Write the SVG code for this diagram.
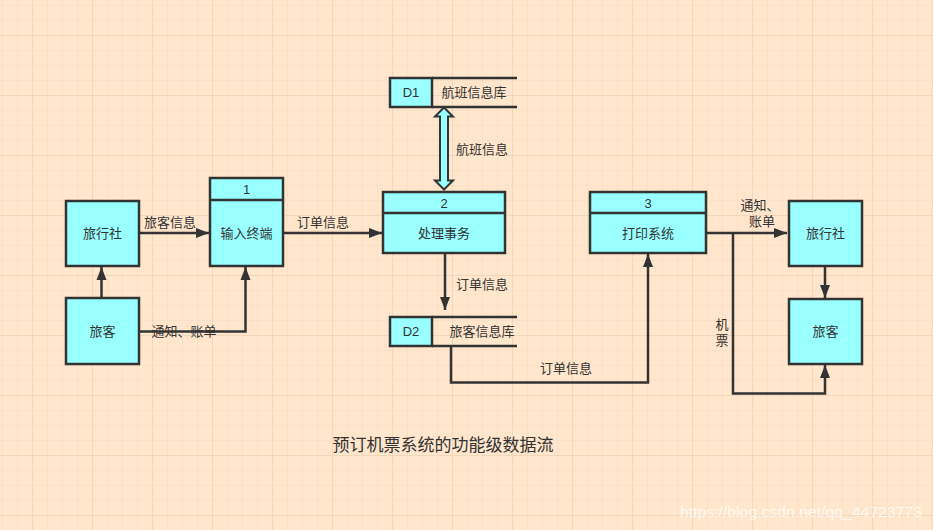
<svg xmlns="http://www.w3.org/2000/svg" width="933" height="530" viewBox="0 0 933 530">
<defs>
<pattern id="gmin" x="2" y="5" width="15" height="15" patternUnits="userSpaceOnUse">
<path d="M0,0 H15 M0,0 V15" fill="none" stroke="#F3D9BF" stroke-width="1"/>
</pattern>
<pattern id="gmaj" x="32" y="35" width="60" height="60" patternUnits="userSpaceOnUse">
<path d="M0,0 H60 M0,0 V60" fill="none" stroke="#E9CFB3" stroke-width="1"/>
</pattern>
<marker id="arr" markerUnits="userSpaceOnUse" markerWidth="14" markerHeight="12" refX="13" refY="6" orient="auto">
<path d="M0,1 L13,6 L0,11 z" fill="#333333"/>
</marker>
<style>
.bx{fill:#99FFFF;stroke:#333333;stroke-width:2.5}
.ln{fill:none;stroke:#333333;stroke-width:2.5}
.fl{fill:none;stroke:#333333;stroke-width:2.5;marker-end:url(#arr)}
.t{font-family:"Liberation Sans","Noto Sans CJK SC",sans-serif;font-size:13px;fill:#333333;text-anchor:middle;dominant-baseline:central}
</style>
</defs>
<rect x="0" y="0" width="933" height="530" fill="#FFE6CC"/>
<rect x="0" y="0" width="933" height="530" fill="url(#gmin)"/>
<rect x="0" y="0" width="933" height="530" fill="url(#gmaj)"/>

<g id="connectors">
<path class="fl" d="M139,233 H209"/>
<path class="fl" d="M283,233 H382"/>
<path class="fl" d="M101.5,298 V267"/>
<path class="fl" d="M139,331.5 H245.5 V267"/>
<path class="fl" d="M445,253 V310"/>
<path class="fl" d="M451,346 V382.5 H648 V254"/>
<path class="fl" d="M706,233 H787"/>
<path class="fl" d="M825,266 V298"/>
<path class="fl" d="M733,233 V393.5 H825 V365"/>
<path d="M444,107.5 L453,116.5 L448,116.5 L448,180.5 L453,180.5 L444,189.5 L435,180.5 L440,180.5 L440,116.5 L435,116.5 Z" fill="#99FFFF" stroke="#333333" stroke-width="2" stroke-linejoin="miter"/>
<text class="t" x="170" y="222">旅客信息</text>
<text class="t" x="323" y="222">订单信息</text>
<text class="t" x="184" y="331">通知、账单</text>
<text class="t" x="482" y="149">航班信息</text>
<text class="t" x="482" y="284">订单信息</text>
<text class="t" x="566" y="368">订单信息</text>
<text class="t" x="760" y="205">通知、</text>
<text class="t" x="762" y="221">账单</text>
<text class="t" x="722" y="324">机</text>
<text class="t" x="722" y="340">票</text>
</g>

<g id="lxs1"><rect class="bx" x="66" y="201" width="73" height="65"/><text class="t" x="102.5" y="233">旅行社</text></g>
<g id="lk1"><rect class="bx" x="66" y="298" width="73" height="66"/><text class="t" x="102.5" y="331">旅客</text></g>
<g id="p1"><rect class="bx" x="210" y="178" width="73" height="88"/><path class="ln" d="M210,200 H283"/><text class="t" x="246.5" y="189">1</text><text class="t" x="246.5" y="233">输入终端</text></g>
<g id="p2"><rect class="bx" x="383" y="192" width="122" height="61"/><path class="ln" d="M383,213 H505"/><text class="t" x="444" y="203">2</text><text class="t" x="444" y="233">处理事务</text></g>
<g id="p3"><rect class="bx" x="590" y="192" width="116" height="61"/><path class="ln" d="M590,213 H706"/><text class="t" x="648" y="203">3</text><text class="t" x="648" y="233">打印系统</text></g>
<g id="d1"><rect class="bx" x="390" y="78" width="42" height="29"/><path class="ln" d="M432,78 H517 M432,107 H517"/><text class="t" x="411" y="92">D1</text><text class="t" x="474" y="92">航班信息库</text></g>
<g id="d2"><rect class="bx" x="390" y="317" width="42" height="29"/><path class="ln" d="M432,317 H517 M432,346 H517"/><text class="t" x="411" y="331">D2</text><text class="t" x="482" y="331">旅客信息库</text></g>
<g id="lxs2"><rect class="bx" x="789" y="201" width="73" height="65"/><text class="t" x="825.5" y="233">旅行社</text></g>
<g id="lk2"><rect class="bx" x="789" y="299" width="73" height="65"/><text class="t" x="825.5" y="331">旅客</text></g>

<text class="t" x="443" y="445" style="font-size:17px">预订机票系统的功能级数据流</text>
<text x="680" y="511" textLength="242" lengthAdjust="spacingAndGlyphs" style="font-family:'Liberation Sans',sans-serif;font-size:15px;fill:#FFFFFF;fill-opacity:0.75;dominant-baseline:central">https://blog.csdn.net/qq_44723773</text>
</svg>
